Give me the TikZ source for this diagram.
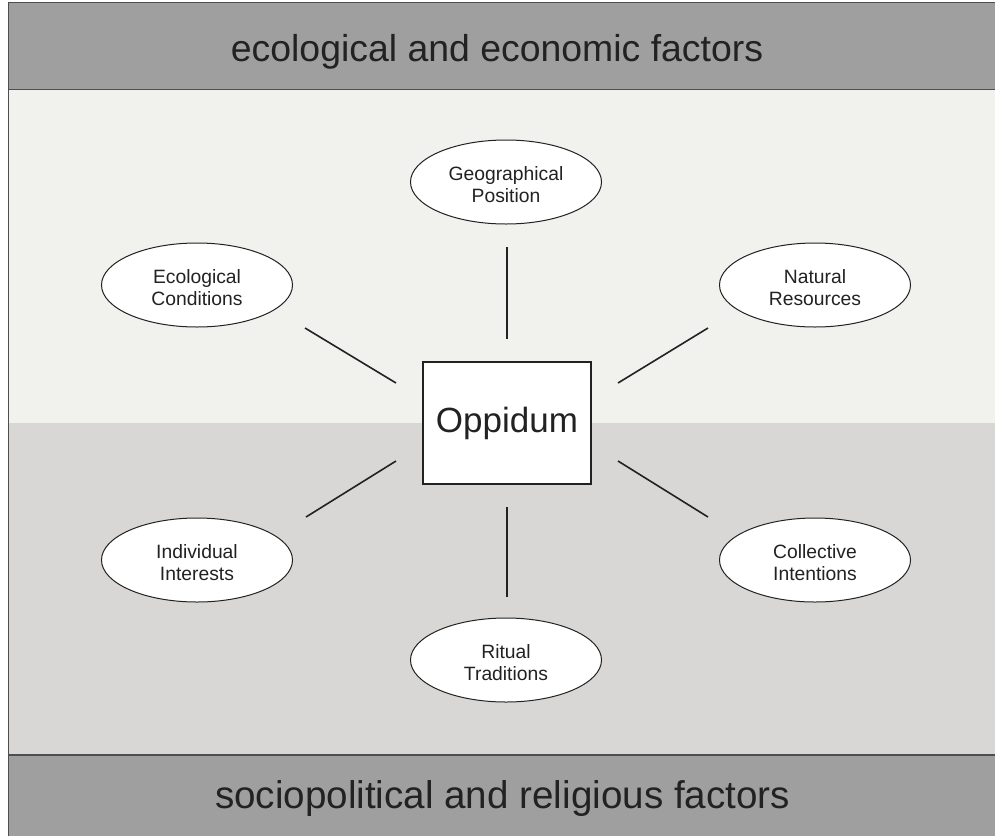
\documentclass[tikz,border=0pt]{standalone}
\usepackage{fontspec}
\setmainfont{Liberation Sans}
\usetikzlibrary{shapes.geometric}
\definecolor{bandgray}{HTML}{9F9F9F}
\definecolor{lightbg}{HTML}{F1F1EE}
\definecolor{midbg}{HTML}{D8D7D5}
\definecolor{ink}{HTML}{222222}
\newcommand{\toppad}{\rule{0pt}{20pt}}
\begin{document}
\begin{tikzpicture}[x=1pt,y=-1pt,
  oval/.style={ellipse,draw=ink,line width=1pt,fill=white,minimum width=191pt,minimum height=84pt,inner sep=0pt,align=center,text=ink,font=\fontsize{19.3}{22}\selectfont},
  centerbox/.style={rectangle,draw=ink,line width=1.5pt,fill=white,minimum width=168pt,minimum height=122pt,inner sep=0pt,text=ink,font=\fontsize{35}{40}\selectfont},
  link/.style={draw=ink,line width=1.6pt},
  bandtext/.style={text=ink,inner sep=0pt,anchor=base}]
\useasboundingbox (0,0) rectangle (995,836);
% backgrounds
\fill[bandgray] (8,2) rectangle (995,89.5);
\fill[lightbg] (8,89.5) rectangle (995,423);
\fill[midbg] (8,423) rectangle (995,755);
\fill[bandgray] (8,755) rectangle (995,836);
\draw[ink!80,line width=1pt] (8,836) -- (8,2.5) -- (995,2.5);
\draw[ink!80,line width=1.2pt] (8,89.5) -- (995,89.5);
\draw[ink!80,line width=1.2pt] (8,755) -- (995,755);
% band texts
\node[bandtext,font=\fontsize{37.4}{42}\selectfont] (top) at (497,61) {ecological and economic factors};
\node[bandtext,font=\fontsize{38.6}{44}\selectfont] (bottom) at (502.5,808) {sociopolitical and religious factors};
% nodes
\node[centerbox] (opp) at (507,423) {Oppidum};
\node[oval] (geo) at (506,182) {\toppad Geographical\\Position};
\node[oval] (eco) at (197,285) {\toppad Ecological\\Conditions};
\node[oval] (nat) at (815,285) {\toppad Natural\\Resources};
\node[oval] (ind) at (197,560) {\toppad Individual\\Interests};
\node[oval] (col) at (815,560) {\toppad Collective\\Intentions};
\node[oval] (rit) at (506,660) {\toppad Ritual\\Traditions};
% connector ends
\coordinate (ul1) at (396,383); \coordinate (ul2) at (305,328);
\coordinate (ur1) at (618,383); \coordinate (ur2) at (708,328);
\coordinate (ll1) at (396,461); \coordinate (ll2) at (306,517);
\coordinate (lr1) at (618,461); \coordinate (lr2) at (708,517);
\coordinate (t1) at (507,339); \coordinate (t2) at (507,247);
\coordinate (b1) at (507,507); \coordinate (b2) at (507,597);
\draw[link] (t1) -- (t2);
\draw[link] (b1) -- (b2);
\draw[link] (ul1) -- (ul2);
\draw[link] (ur1) -- (ur2);
\draw[link] (ll1) -- (ll2);
\draw[link] (lr1) -- (lr2);
\end{tikzpicture}
\end{document}
